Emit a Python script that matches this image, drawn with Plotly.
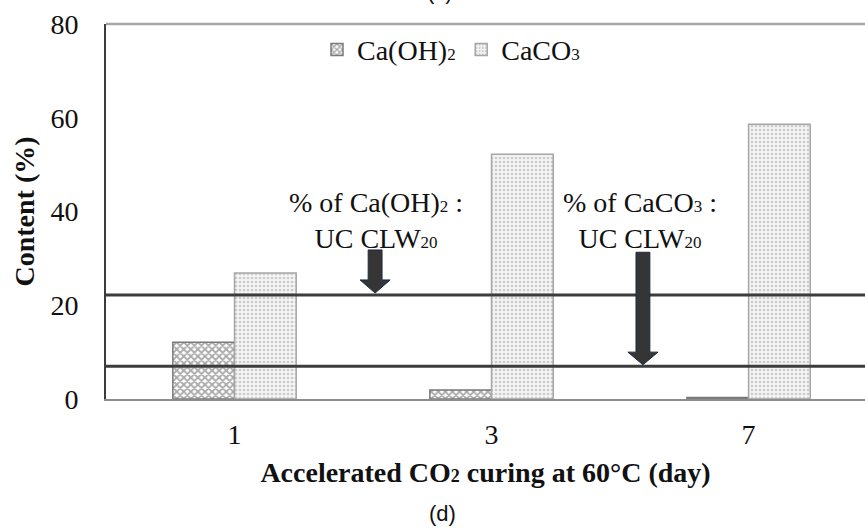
import plotly.graph_objects as go

# ---- data ----
days = ["1", "3", "7"]
caoh2 = [12.1, 1.9, 0.3]
caco3 = [26.9, 52.2, 58.6]
ref_lines = [22.2, 7.0]          # UC CLW20 reference levels: Ca(OH)2, CaCO3
y_ticks = [0, 20, 40, 60, 80]

SERIF = "Liberation Serif"
FS = 28


def sub(t, size=17):
    return f'<span style="font-size:{size}px">{t}</span>'


series_names = [f"Ca(OH){sub('2')}", f"CaCO{sub('3')}"]
xpos = list(range(len(days)))

fig = go.Figure()
fig.add_trace(go.Bar(
    x=xpos, y=caoh2, name=series_names[0], legend="legend",
    marker=dict(color="white",
                line=dict(color="#7a7a7a", width=1.5),
                pattern=dict(shape="x", fgcolor="#555555", bgcolor="#ffffff",
                             size=5, solidity=0.6)),
))
fig.add_trace(go.Bar(
    x=xpos, y=caco3, name=series_names[1], legend="legend2",
    marker=dict(color="white",
                line=dict(color="#a6a6a6", width=1.5),
                pattern=dict(shape=".", fgcolor="#a0a0a0", bgcolor="#f4f4f4",
                             size=4, solidity=0.35)),
))

shapes = []
for v in ref_lines:
    shapes.append(dict(type="line", xref="paper", yref="y", x0=0, x1=1, y0=v, y1=v,
                       line=dict(color="#3c3c3c", width=3), layer="above"))
shapes.append(dict(type="line", xref="paper", yref="paper", x0=0, x1=1, y0=1, y1=1,
                   line=dict(color="#a6a6a6", width=2.5), layer="above"))


def block_arrow(xc, y_top, y_head, y_tip, shaft_w=0.054, head_w=0.117):
    s, h = shaft_w / 2, head_w / 2
    path = (f"M {xc - s},{y_top} L {xc + s},{y_top} L {xc + s},{y_head} "
            f"L {xc + h},{y_head} L {xc},{y_tip} L {xc - h},{y_head} "
            f"L {xc - s},{y_head} Z")
    return dict(type="path", xref="x", yref="y", path=path,
                fillcolor="#353535", line=dict(color="#1f2a44", width=1), layer="above")


shapes.append(block_arrow(0.547, 31.8, 25.4, ref_lines[0] + 0.4))
shapes.append(block_arrow(1.589, 31.3, 10.0, ref_lines[1] + 0.3))

annotations = [
    dict(x=0.55, y=38.0, xref="x", yref="y", showarrow=False,
         text=f"% of Ca(OH){sub('2')} :<br>UC CLW{sub('20')}",
         font=dict(family=SERIF, size=FS, color="#111111"), align="center"),
    dict(x=1.578, y=38.0, xref="x", yref="y", showarrow=False,
         text=f"% of CaCO{sub('3')} :<br>UC CLW{sub('20')}",
         font=dict(family=SERIF, size=FS, color="#111111"), align="center"),
    dict(x=0.444, y=-0.304, xref="paper", yref="paper", showarrow=False,
         xanchor="center", yanchor="middle",
         text="(d)", font=dict(family="Liberation Sans", size=22, color="#111111")),
    dict(x=0.440, y=1.048, xref="paper", yref="paper", showarrow=False,
         xanchor="center", yanchor="bottom",
         text="(c)", font=dict(family="Liberation Sans", size=22, color="#111111")),
]

legend_common = dict(orientation="h", xanchor="left", yanchor="middle",
                     font=dict(family=SERIF, size=FS, color="#111111"),
                     bgcolor="rgba(0,0,0,0)", itemwidth=30)

fig.update_layout(
    width=865, height=530,
    margin=dict(l=106, r=0, t=24, b=131),
    paper_bgcolor="white", plot_bgcolor="white",
    barmode="group", bargap=0.52, bargroupgap=0,
    font=dict(family=SERIF, size=FS, color="#111111"),
    showlegend=True,
    legend=dict(x=0.278, y=0.931, **legend_common),
    legend2=dict(x=0.468, y=0.931, **legend_common),
    shapes=shapes, annotations=annotations,
    xaxis=dict(tickvals=xpos, ticktext=days, range=[-0.5, 2.453],
               showline=True, linecolor="#8c8c8c", linewidth=2,
               showgrid=False, zeroline=False, ticks="",
               ticklabelstandoff=9,
               title=dict(text=f"<b>Accelerated CO{sub('2', 18)} curing at 60°C (day)</b>",
                          font=dict(family=SERIF, size=FS), standoff=14)),
    yaxis=dict(range=[0, 80], tickvals=y_ticks,
               showline=True, linecolor="#3c3c3c", linewidth=2,
               showgrid=False, zeroline=False, ticks="",
               ticklabelstandoff=20,
               title=dict(text="<b>Content (%)</b>",
                          font=dict(family=SERIF, size=FS), standoff=8)),
)

fig.write_html("out.html")
